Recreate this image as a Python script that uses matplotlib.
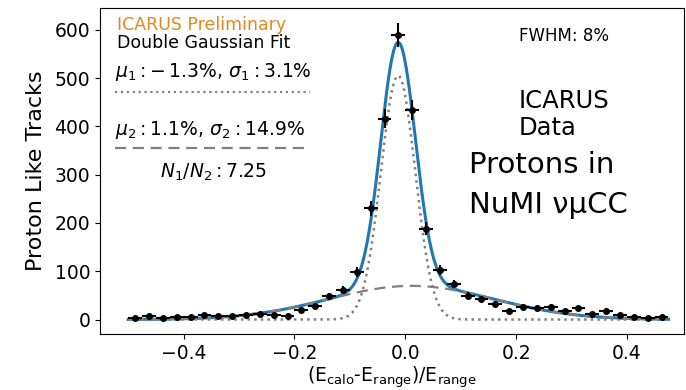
import numpy as np
import matplotlib
matplotlib.use('Agg')
import matplotlib.pyplot as plt
from matplotlib.lines import Line2D

# histogram of (E_calo - E_range)/E_range, 0.025 wide bins
bin_lo, bin_hi, n_bins = -0.5, 0.475, 39
counts = [3, 7, 4, 5, 5, 10, 8, 7, 9, 12, 10, 7, 19, 27, 48, 61, 99, 230,
          416, 589, 434, 188, 103, 73, 49, 43, 33, 17, 26, 23, 26, 17, 24,
          12, 18, 10, 5, 3, 5]

# double gaussian fit result
mu1, sigma1 = -0.013, 0.031
mu2, sigma2 = 0.011, 0.149
amp1 = 505.0
n_ratio = 7.25

xticks = [-0.4, -0.2, 0.0, 0.2, 0.4]
yticks = [0, 100, 200, 300, 400, 500, 600]

edges = np.linspace(bin_lo, bin_hi, n_bins + 1)
centers = 0.5 * (edges[1:] + edges[:-1])
halfw = 0.5 * (edges[1] - edges[0])
counts = np.array(counts, dtype=float)

xf = np.linspace(bin_lo, bin_hi, 600)
g1 = amp1 * np.exp(-0.5 * ((xf - mu1) / sigma1) ** 2)
g2 = amp1 / n_ratio * np.exp(-0.5 * ((xf - mu2) / sigma2) ** 2)

fig = plt.figure(figsize=(6.86, 3.9), dpi=100)
ax = fig.add_axes([100 / 686, 1 - 334 / 390, 584 / 686, 326 / 390])

ax.plot(xf, g1 + g2, color='#1f77b4', lw=2.2, zorder=2)
ax.plot(xf, g1, color='gray', ls=':', lw=1.8, zorder=3)
ax.plot(xf, g2, color='gray', ls='--', lw=1.6, dashes=(5, 3), zorder=3)
ax.errorbar(centers, counts, xerr=halfw, yerr=np.sqrt(counts), fmt='o',
            color='black', ms=4, elinewidth=1.5, capsize=0, zorder=4)

ax.set_xlim(-0.551, 0.503)
ax.set_ylim(-30, 645)
ax.set_xticks(xticks)
ax.set_yticks(yticks)
ax.tick_params(labelsize=13.5)
ax.set_ylabel('Proton Like Tracks', fontsize=16, labelpad=6)
ax.set_xlabel(r'(E$_{\rm calo}$-E$_{\rm range}$)/E$_{\rm range}$', fontsize=13.5,
              labelpad=1)

# legend-like annotations
t = ax.transAxes
ax.text(0.029, 0.948, 'ICARUS Preliminary', color='#E3871E', fontsize=12.5,
        transform=t, va='center')
ax.text(0.029, 0.893, 'Double Gaussian Fit', fontsize=12.5, transform=t, va='center')
ax.text(0.026, 0.804, r'$\mu_1: -\,1.3\%, \,\sigma_1: 3.1\%$', fontsize=13.5,
        transform=t, va='center')
ax.add_line(Line2D([0.026, 0.359], [0.742, 0.742], transform=t, color='gray',
                   ls=':', lw=1.6))
ax.text(0.026, 0.626, r'$\mu_2: 1.1\%, \,\sigma_2: 14.9\%$', fontsize=13.5,
        transform=t, va='center')
ax.add_line(Line2D([0.026, 0.359], [0.571, 0.571], transform=t, color='gray',
                   ls='--', dashes=(5, 3), lw=1.6))
ax.text(0.103, 0.497, r'$N_1/N_2: 7.25$', fontsize=13.5, transform=t, va='center')

ax.text(0.718, 0.914, 'FWHM: 8%', fontsize=12, transform=t, va='center')
ax.text(0.716, 0.715, 'ICARUS', fontsize=17.5, transform=t, va='center')
ax.text(0.716, 0.632, 'Data', fontsize=17.5, transform=t, va='center')
ax.text(0.632, 0.518, 'Protons in', fontsize=21, transform=t, va='center')
ax.text(0.632, 0.396, 'NuMI νμCC', fontsize=21, transform=t, va='center')

fig.savefig('out.png', dpi=100)
